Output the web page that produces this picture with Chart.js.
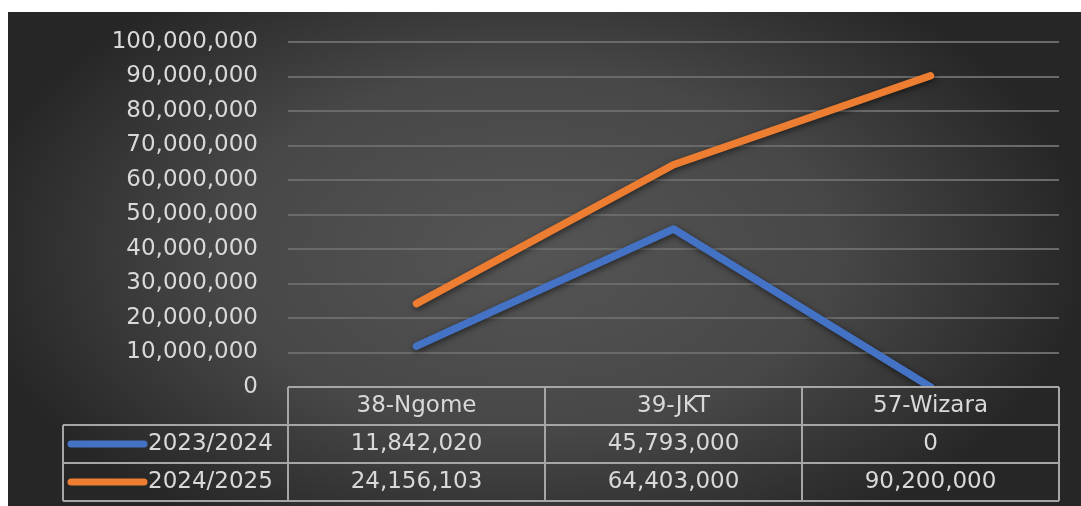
<!DOCTYPE html>
<html>
<head>
<meta charset="utf-8">
<script src="https://cdn.jsdelivr.net/npm/chart.js@4"></script>
<style>
  html, body { margin: 0; background: #fff; }
  #wrap { position: absolute; left: 8px; top: 12px; width: 1073px; height: 494px; }
</style>
</head>
<body>
<div id="wrap"><canvas id="chart"></canvas></div>
<script>
const categories = ['38-Ngome', '39-JKT', '57-Wizara'];
const seriesNames = ['2023/2024', '2024/2025'];
const values2324 = [11842020, 45793000, 0];
const values2425 = [24156103, 64403000, 90200000];
const seriesColors = ['#4472C4', '#ED7D31'];
const yMax = 100000000;
const yStep = 10000000;

const textColor = '#d9d9d9';
const fontFamily = '"DejaVu Sans", sans-serif';
const fmt = v => v.toLocaleString('en-US');

// dark panel with a soft light spot in the middle
const background = {
  id: 'background',
  beforeDraw(chart) {
    const ctx = chart.ctx;
    const w = chart.width, h = chart.height;
    ctx.save();
    ctx.fillStyle = '#262626';
    ctx.fillRect(0, 0, w, h);
    ctx.translate(520, 240);
    ctx.scale(1.7, 1);
    const g = ctx.createRadialGradient(0, 0, 0, 0, 0, 330);
    g.addColorStop(0, '#555555');
    g.addColorStop(0.55, '#474747');
    g.addColorStop(1, '#262626');
    ctx.fillStyle = g;
    ctx.fillRect(-w, -h, w * 2, h * 2);
    ctx.restore();
  }
};

const lineShadow = {
  id: 'lineShadow',
  beforeDatasetDraw(chart) {
    const ctx = chart.ctx;
    ctx.save();
    ctx.shadowColor = 'rgba(0,0,0,0.55)';
    ctx.shadowBlur = 6;
    ctx.shadowOffsetX = 1;
    ctx.shadowOffsetY = 2;
  },
  afterDatasetDraw(chart) {
    chart.ctx.restore();
  }
};

// Excel style data table under the plot
const dataTable = {
  id: 'dataTable',
  afterDraw(chart) {
    const ctx = chart.ctx;
    const x = chart.scales.x;
    const area = chart.chartArea;
    const rowH = 38;
    const top = area.bottom;
    const half = (x.getPixelForValue(1) - x.getPixelForValue(0)) / 2;
    const legendLeft = 55;
    const rows = [top, top + rowH, top + rowH * 2, top + rowH * 3];

    ctx.save();
    ctx.strokeStyle = '#a6a6a6';
    ctx.lineWidth = 2;
    ctx.beginPath();
    ctx.moveTo(area.left, rows[0]); ctx.lineTo(area.right, rows[0]);
    for (let r = 1; r < rows.length; r++) {
      ctx.moveTo(legendLeft, rows[r]); ctx.lineTo(area.right, rows[r]);
    }
    ctx.moveTo(area.left, rows[0]); ctx.lineTo(area.left, rows[3]);
    ctx.moveTo(legendLeft, rows[1]); ctx.lineTo(legendLeft, rows[3]);
    categories.forEach((c, i) => {
      const sx = x.getPixelForValue(i) + half;
      ctx.moveTo(sx, rows[0]); ctx.lineTo(sx, rows[3]);
    });
    ctx.stroke();

    ctx.fillStyle = textColor;
    ctx.font = '23px ' + fontFamily;
    ctx.textBaseline = 'middle';
    ctx.textAlign = 'center';
    categories.forEach((c, i) => {
      ctx.fillText(c, x.getPixelForValue(i), rows[0] + rowH / 2);
    });
    chart.data.datasets.forEach((ds, r) => {
      const cy = rows[r + 1] + rowH / 2;
      ds.data.forEach((v, i) => {
        ctx.textAlign = 'center';
        ctx.fillText(fmt(v), x.getPixelForValue(i), cy);
      });
      ctx.strokeStyle = ds.borderColor;
      ctx.lineWidth = 7;
      ctx.lineCap = 'round';
      ctx.beginPath();
      ctx.moveTo(63, cy);
      ctx.lineTo(136, cy);
      ctx.stroke();
      ctx.textAlign = 'left';
      ctx.fillText(ds.label, 140, cy);
    });
    ctx.restore();
  }
};

new Chart(document.getElementById('chart'), {
  type: 'line',
  data: {
    labels: categories,
    datasets: [
      { label: seriesNames[0], data: values2324, borderColor: seriesColors[0] },
      { label: seriesNames[1], data: values2425, borderColor: seriesColors[1] }
    ]
  },
  options: {
    responsive: true,
    maintainAspectRatio: false,
    animation: false,
    layout: { padding: { top: 30, right: 22, bottom: 119, left: 0 } },
    elements: {
      line: { borderWidth: 7.5, borderCapStyle: 'round', borderJoinStyle: 'round', tension: 0 },
      point: { radius: 0, hoverRadius: 0 }
    },
    plugins: {
      legend: { display: false },
      tooltip: { enabled: false }
    },
    scales: {
      x: { display: false, offset: true },
      y: {
        min: 0,
        max: yMax,
        afterFit(scale) { scale.width = 280; },
        border: { display: false },
        grid: { color: '#6a6a6a', lineWidth: 2, drawTicks: true, tickLength: 30, tickColor: 'transparent' },
        ticks: {
          stepSize: yStep,
          padding: 0,
          color: textColor,
          font: { family: fontFamily, size: 23 },
          callback: v => fmt(v)
        }
      }
    }
  },
  plugins: [background, lineShadow, dataTable]
});
</script>
</body>
</html>
